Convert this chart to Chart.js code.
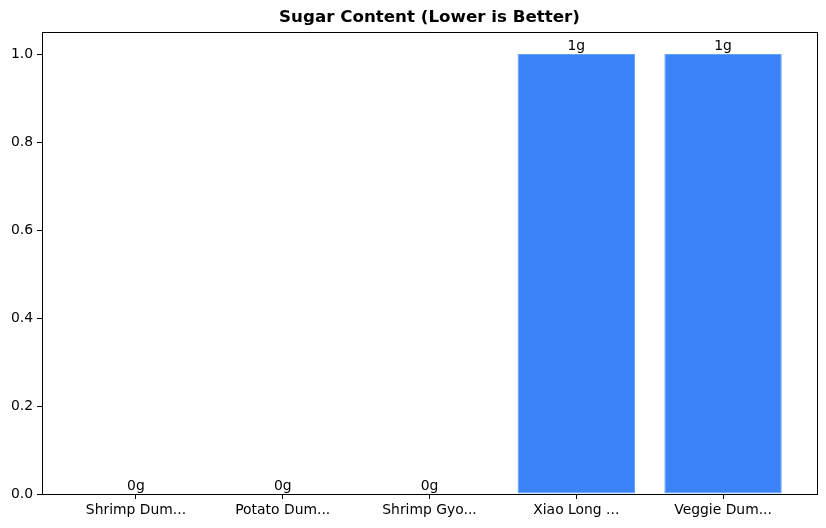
<!DOCTYPE html>
<html>
<head>
<meta charset="utf-8">
<script src="https://cdn.jsdelivr.net/npm/chart.js@4.4.0/dist/chart.umd.min.js"></script>
<style>
html,body{margin:0;padding:0;background:#fff;}
canvas{display:block;}
</style>
</head>
<body>
<canvas id="c" width="826" height="528"></canvas>
<script>
const categories = ["Shrimp Dum...", "Potato Dum...", "Shrimp Gyo...", "Xiao Long ...", "Veggie Dum..."];
const sugarValues = [0, 0, 0, 1, 1];
const valueLabels = ["0g", "0g", "0g", "1g", "1g"];
const yTicks = [0, 0.2, 0.4, 0.6, 0.8, 1.0];
const xTicks = [0, 1, 2, 3, 4];

const FONT = "'DejaVu Sans', sans-serif";

const frame = {
  id: 'frame',
  afterDraw(chart) {
    const {ctx, chartArea: a} = chart;
    ctx.save();
    ctx.strokeStyle = '#000';
    ctx.lineWidth = 1;
    ctx.strokeRect(Math.round(a.left) + 0.5, Math.round(a.top) + 0.5, Math.round(a.right - a.left), Math.round(a.bottom - a.top));
    ctx.restore();
  }
};

const barLabels = {
  id: 'barLabels',
  afterDatasetsDraw(chart) {
    const {ctx} = chart;
    const meta = chart.getDatasetMeta(0);
    ctx.save();
    ctx.fillStyle = '#000';
    ctx.font = "13.9px " + FONT;
    ctx.textAlign = 'center';
    ctx.textBaseline = 'bottom';
    meta.data.forEach((bar, i) => {
      ctx.fillText(valueLabels[i], bar.x, bar.y - 0.5);
    });
    ctx.restore();
  }
};

new Chart(document.getElementById('c'), {
  type: 'bar',
  data: {
    datasets: [{
      data: sugarValues.map((v, i) => ({x: i, y: v})),
      backgroundColor: '#3b82f6',
      borderColor: '#60a5fa',
      borderWidth: 1,
      borderSkipped: false,
      barPercentage: 0.8,
      categoryPercentage: 1.0
    }]
  },
  plugins: [frame, barLabels],
  options: {
    responsive: false,
    animation: false,
    devicePixelRatio: 1,
    layout: {padding: {left: 0, right: 9, top: 0, bottom: 0}},
    plugins: {
      legend: {display: false},
      tooltip: {enabled: false},
      title: {
        display: true,
        fullSize: false,
        text: 'Sugar Content (Lower is Better)',
        color: '#000',
        font: {family: FONT, size: 16.7, weight: 'bold', lineHeight: 1.2},
        padding: {top: 8, bottom: 4}
      }
    },
    scales: {
      x: {
        type: 'linear',
        min: -0.64,
        max: 4.64,
        offset: false,
        afterBuildTicks(scale) { scale.ticks = xTicks.map(v => ({value: v})); },
        afterFit(scale) { scale.height = 34; },
        ticks: {
          color: '#000',
          font: {family: FONT, size: 13.9},
          padding: 3,
          maxRotation: 0,
          autoSkip: false,
          callback: (v) => categories[v]
        },
        grid: {offset: false, drawOnChartArea: false, drawTicks: true, tickLength: 5, color: '#000'},
        border: {display: true, color: '#000', width: 1}
      },
      y: {
        type: 'linear',
        min: 0,
        max: 1.05,
        afterBuildTicks(scale) { scale.ticks = yTicks.map(v => ({value: v})); },
        afterFit(scale) { scale.width = 42; },
        ticks: {
          color: '#000',
          font: {family: FONT, size: 13.9},
          padding: 4,
          callback: (v) => Number(v).toFixed(1)
        },
        grid: {offset: false, drawOnChartArea: false, drawTicks: true, tickLength: 5, color: '#000'},
        border: {display: true, color: '#000', width: 1}
      }
    }
  }
});
</script>
</body>
</html>
